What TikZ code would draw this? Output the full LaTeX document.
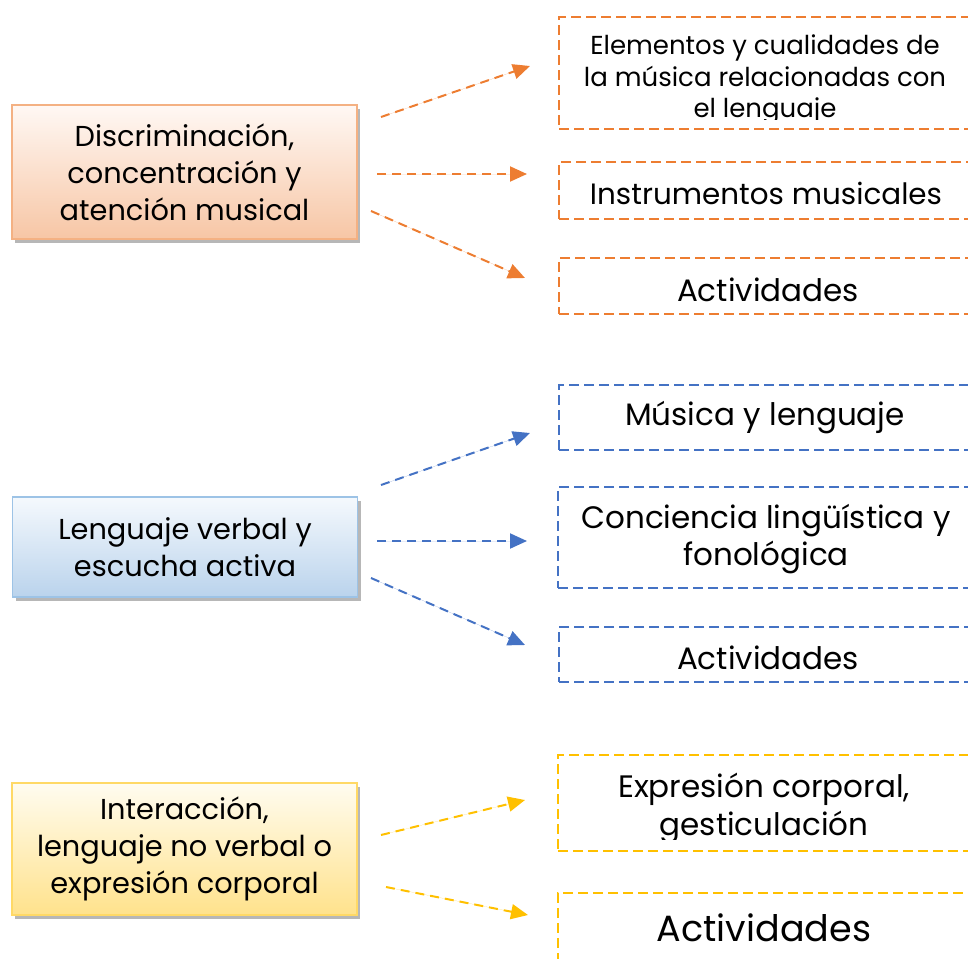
\documentclass[tikz,border=0pt]{standalone}
\usepackage{fontspec}
\setmainfont{Poppins}
\usetikzlibrary{arrows.meta,shadows}
\definecolor{orL}{HTML}{ED7D31}
\definecolor{blL}{HTML}{4472C4}
\definecolor{yeL}{HTML}{FFC000}
\definecolor{orB}{HTML}{F4B183}
\definecolor{blB}{HTML}{9DC3E6}
\definecolor{yeB}{HTML}{FFD966}
\definecolor{orT}{HTML}{FFF8F4}
\definecolor{orD}{HTML}{F7C6A5}
\definecolor{blT}{HTML}{F5F9FD}
\definecolor{blD}{HTML}{BAD3EC}
\definecolor{yeT}{HTML}{FFFCF0}
\definecolor{yeD}{HTML}{FFE28C}
\begin{document}
\begin{tikzpicture}[x=1pt,y=-1pt,
  leftbox/.style={rectangle, line width=1.5pt, minimum width=345pt, align=center, inner sep=0pt,
    font=\fontsize{28.8}{37}\selectfont,
    drop shadow={shadow xshift=3pt, shadow yshift=-4pt, fill=black!70, opacity=0.4}},
  rbox/.style={rectangle, dashed, dash pattern=on 10pt off 5pt, line width=2.2pt, anchor=north west, inner sep=0pt, minimum width=420pt},
  rtext/.style={align=center, inner sep=0pt},
  conn/.style={line width=2pt, dash pattern=on 9pt off 6pt, -{Triangle[length=17pt,width=15pt]}}
]
\useasboundingbox (0,0) rectangle (968,958);
\clip (0,0) rectangle (968,958);

% left boxes
\node[leftbox, draw=orB, top color=orT, bottom color=orD, minimum height=134pt] (L1) at (184.5,172)
  {Discriminación,\\concentración y\\atención musical};
\node[leftbox, draw=blB, top color=blT, bottom color=blD, minimum height=100pt] (L2) at (185,547)
  {Lenguaje verbal y\\escucha activa};
\node[leftbox, draw=yeB, top color=yeT, bottom color=yeD, minimum height=132pt] (L3) at (184.5,849)
  {Interacción,\\lenguaje no verbal o\\expresión corporal};

% right boxes
\node[rbox, draw=orL, minimum height=112pt] (R1) at (558,16) {};
\node[rbox, draw=orL, minimum height=57pt] (R2) at (558,161) {};
\node[rbox, draw=orL, minimum height=56pt] (R3) at (558,257) {};
\node[rbox, draw=blL, minimum height=65pt] (R4) at (558,384) {};
\node[rbox, draw=blL, minimum height=101pt] (R5) at (557,486) {};
\node[rbox, draw=blL, minimum height=55pt] (R6) at (558,626) {};
\node[rbox, draw=yeL, minimum height=96pt] (R7) at (557,754) {};
\node[rbox, draw=yeL, minimum height=90pt] (R8) at (557,892) {};

% right texts
\begin{scope}
\clip (558,16) rectangle (968,119);
\node[rtext, anchor=north, font=\fontsize{26}{31.5}\selectfont] (T1) at (765,35)
  {Elementos y cualidades de\\la música relacionadas con\\el lenguaje};
\end{scope}
\node[rtext, font=\fontsize{29.4}{36}\selectfont] (T2) at (766,193) {Instrumentos musicales};
\node[rtext, font=\fontsize{31}{36}\selectfont] (T3) at (768,290) {Actividades};
\node[rtext, font=\fontsize{31}{36}\selectfont] (T4) at (765,418) {Música y lenguaje};
\node[rtext, font=\fontsize{31}{37}\selectfont] (T5) at (766,539) {Conciencia lingüística y\\fonológica};
\node[rtext, font=\fontsize{31}{36}\selectfont] (T6) at (768,658) {Actividades};
\begin{scope}
\clip (557,754) rectangle (968,839);
\node[rtext, anchor=north, font=\fontsize{31}{38}\selectfont] (T7) at (764,773)
  {Expresión corporal,\\gesticulación};
\end{scope}
\node[rtext, font=\fontsize{36.5}{40}\selectfont] (T8) at (764,928) {Actividades};

% connector ends
\coordinate (a1s) at (381,117); \coordinate (a1e) at (530,66);
\coordinate (a2s) at (377,174); \coordinate (a2e) at (527,174);
\coordinate (a3s) at (371,211); \coordinate (a3e) at (525,278);
\coordinate (a4s) at (381,485); \coordinate (a4e) at (530,433);
\coordinate (a5s) at (377,541); \coordinate (a5e) at (527,541);
\coordinate (a6s) at (371,578); \coordinate (a6e) at (525,645);
\coordinate (a7s) at (381,835); \coordinate (a7e) at (525,800);
\coordinate (a8s) at (386,887); \coordinate (a8e) at (528,915);

\draw[conn, draw=orL, fill=orL] (a1s) -- (a1e);
\draw[conn, draw=orL, fill=orL] (a2s) -- (a2e);
\draw[conn, draw=orL, fill=orL] (a3s) -- (a3e);
\draw[conn, draw=blL, fill=blL] (a4s) -- (a4e);
\draw[conn, draw=blL, fill=blL] (a5s) -- (a5e);
\draw[conn, draw=blL, fill=blL] (a6s) -- (a6e);
\draw[conn, draw=yeL, fill=yeL] (a7s) -- (a7e);
\draw[conn, draw=yeL, fill=yeL] (a8s) -- (a8e);
\end{tikzpicture}
\end{document}
